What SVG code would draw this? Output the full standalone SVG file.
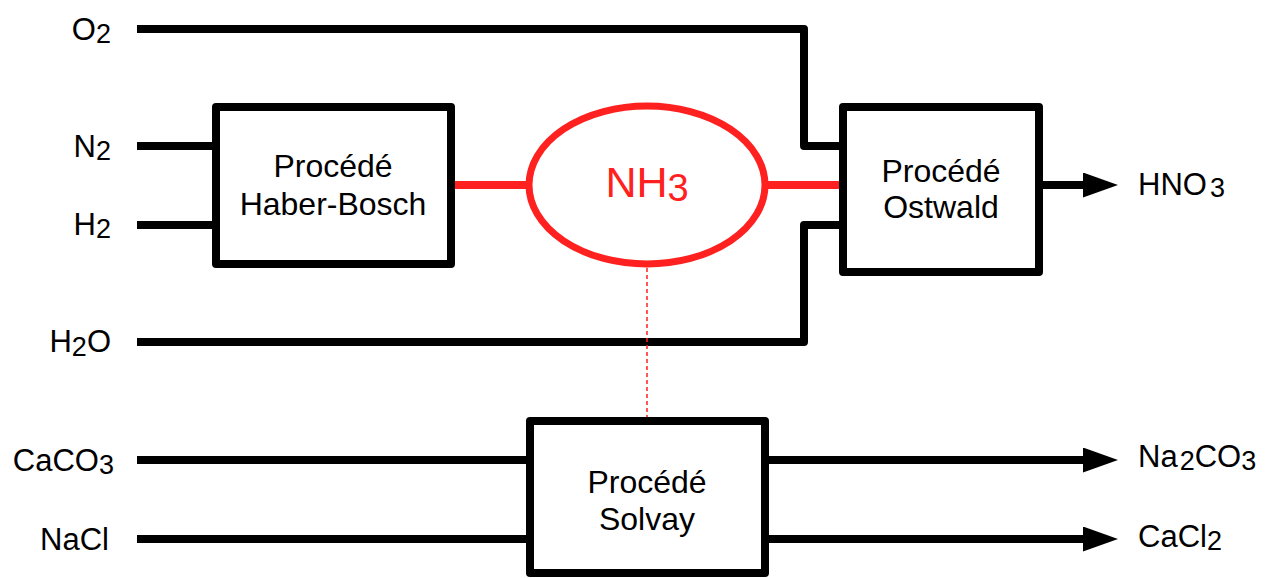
<svg xmlns="http://www.w3.org/2000/svg" width="1265" height="578" viewBox="0 0 1265 578">
  <defs>
    <marker id="arr" markerUnits="userSpaceOnUse" markerWidth="36" markerHeight="26" refX="0" refY="12.5" orient="auto">
      <path d="M0,0 L35,12.5 L0,25 Z" fill="#000"/>
    </marker>
    <style>
      .box { fill: #fff; stroke: #000; stroke-width: 8; stroke-linejoin: round; }
      .wire { fill: none; stroke: #000; stroke-width: 8; stroke-linejoin: round; }
      .red { fill: none; stroke: #ff2020; stroke-width: 8; }
      .lbl { font-family: "Liberation Sans", Arial, sans-serif; font-size: 31px; fill: #000; }
      .t { font-family: "Liberation Sans", Arial, sans-serif; font-size: 32px; fill: #000; text-anchor: middle; }
      .sub { font-size: 27px; }
    </style>
  </defs>
  <rect width="1265" height="578" fill="#fff"/>

  <g id="connectors">
    <path class="wire" d="M137,29 H804 V146 H843"/>
    <path class="wire" d="M137,342 H804 V225 H843"/>
    <line class="wire" x1="137" y1="146" x2="216" y2="146"/>
    <line class="wire" x1="137" y1="225" x2="216" y2="225"/>
    <line class="red" x1="451" y1="185" x2="530" y2="185"/>
    <line class="red" x1="765" y1="185" x2="843" y2="185"/>
    <line x1="647" y1="268" x2="647" y2="417" stroke="#ff2020" stroke-width="1.5" stroke-dasharray="4,3"/>
    <line class="wire" x1="137" y1="460" x2="530" y2="460"/>
    <line class="wire" x1="137" y1="539" x2="530" y2="539"/>
    <line class="wire" x1="1039" y1="185" x2="1083" y2="185" marker-end="url(#arr)"/>
    <line class="wire" x1="765" y1="460" x2="1083" y2="460" marker-end="url(#arr)"/>
    <line class="wire" x1="765" y1="539" x2="1083" y2="539" marker-end="url(#arr)"/>
  </g>

  <g id="labels-in">
    <text class="lbl" x="111" y="40" text-anchor="end">O<tspan class="sub" dy="3">2</tspan></text>
    <text class="lbl" x="111" y="157" text-anchor="end">N<tspan class="sub" dy="3">2</tspan></text>
    <text class="lbl" x="111" y="235" text-anchor="end">H<tspan class="sub" dy="3">2</tspan></text>
    <text class="lbl" x="111" y="352" text-anchor="end">H<tspan class="sub" dy="4">2</tspan><tspan dy="-4">O</tspan></text>
    <text class="lbl" x="114" y="471" text-anchor="end">CaCO<tspan class="sub" dy="3">3</tspan></text>
    <text class="lbl" x="109" y="550" text-anchor="end">NaCl</text>
  </g>

  <g id="haber-bosch">
    <rect class="box" x="216" y="107" width="235" height="157"/>
    <text class="t" x="333" y="177">Procédé</text>
    <text class="t" x="333" y="215">Haber-Bosch</text>
  </g>

  <g id="nh3">
    <ellipse cx="647" cy="185" rx="118" ry="79" fill="#fff" stroke="#ff2020" stroke-width="7"/>
    <text x="647" y="197" font-family="Liberation Sans, Arial, sans-serif" font-size="43" fill="#ff2020" text-anchor="middle">NH<tspan font-size="38" dy="4">3</tspan></text>
  </g>

  <g id="ostwald">
    <rect class="box" x="843" y="107" width="196" height="165"/>
    <text class="t" x="941" y="182">Procédé</text>
    <text class="t" x="941" y="218">Ostwald</text>
  </g>

  <g id="solvay">
    <rect class="box" x="530" y="421" width="235" height="152"/>
    <text class="t" x="647" y="493">Procédé</text>
    <text class="t" x="647" y="530">Solvay</text>
  </g>

  <g id="labels-out">
    <text class="lbl" x="1138" y="195">HNO<tspan class="sub" dx="3" dy="2">3</tspan></text>
    <text class="lbl" x="1138" y="467">Na<tspan class="sub" dx="2" dy="3">2</tspan><tspan dy="-3">CO</tspan><tspan class="sub" dy="3">3</tspan></text>
    <text class="lbl" x="1138" y="547">CaCl<tspan class="sub" dy="3">2</tspan></text>
  </g>
</svg>
